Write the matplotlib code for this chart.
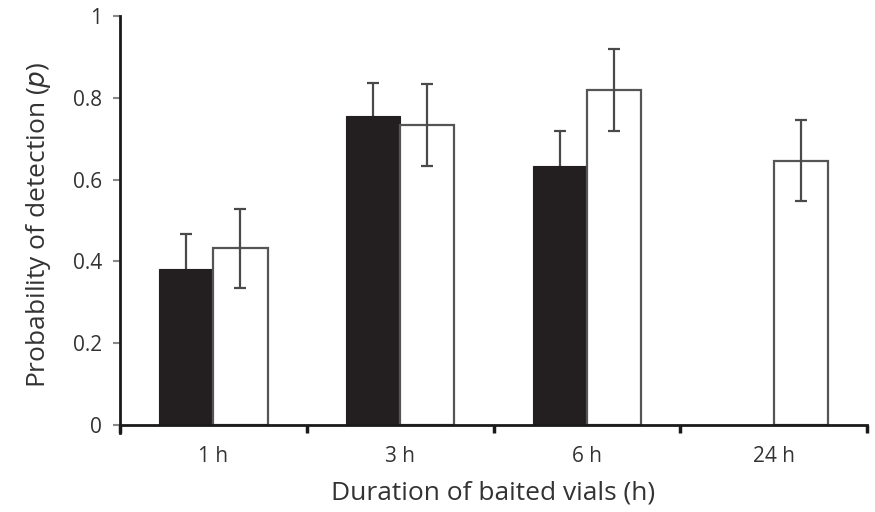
import numpy as np
import matplotlib
matplotlib.use("Agg")
import matplotlib.pyplot as plt

categories = ["1 h", "3 h", "6 h", "24 h"]
black_vals = [0.382, 0.755, 0.634, np.nan]
black_err = [0.085, 0.082, 0.085, 0.0]
white_vals = [0.432, 0.733, 0.819, 0.646]
white_err = [0.097, 0.100, 0.100, 0.099]

plt.rcParams['font.family'] = ['Open Sans', 'DejaVu Sans']

fig = plt.figure(figsize=(8.75, 5.12), dpi=100)
ax = fig.add_axes([120 / 875, 1 - 433 / 512, 747 / 875, (433 - 16) / 512])

x = np.arange(len(categories))
w = 0.29
errc = '#4a4a4a'

# black bars, only upper error bar visible
ax.bar(x - w / 2, black_vals, w, color='#231f20', edgecolor='#231f20', linewidth=0.8, zorder=2)
bv = np.array(black_vals)
be = np.array(black_err)
ok = ~np.isnan(bv)
eb = ax.errorbar((x - w / 2)[ok], bv[ok], yerr=[np.zeros(ok.sum()), be[ok]], fmt='none',
                 ecolor=errc, elinewidth=1.6, capsize=4.5, capthick=1.6, zorder=1)
eb[1][0].set_visible(False)  # hide lower caps

# white bars
ax.bar(x + w / 2, white_vals, w, color='white', edgecolor='#555555', linewidth=1.6, zorder=2)
ax.errorbar(x + w / 2, white_vals, yerr=white_err, fmt='none',
            ecolor=errc, elinewidth=1.6, capsize=4.5, capthick=1.6, zorder=3)

ax.set_xlim(-0.5, 3.5)
ax.set_ylim(-0.02, 1)
ax.spines['top'].set_visible(False)
ax.spines['right'].set_visible(False)
ax.spines['bottom'].set_position(('data', 0))
ax.spines['left'].set_bounds(-0.02, 1)
for s in ['left', 'bottom']:
    ax.spines[s].set_linewidth(2)
    ax.spines[s].set_color('#1a1a1a')

ax.set_yticks([0, 0.2, 0.4, 0.6, 0.8, 1])
ax.set_yticklabels(['0', '0.2', '0.4', '0.6', '0.8', '1'])
ax.tick_params(axis='y', direction='out', length=5, width=1.5, color='#888888',
               labelsize=15, labelcolor='#333333', pad=8)

ax.set_xticks(x)
ax.set_xticklabels(categories)
ax.tick_params(axis='x', which='major', length=0, labelsize=15, labelcolor='#333333', pad=15)
ax.set_xticks(np.arange(-0.5, 4.0, 1.0), minor=True)
ax.tick_params(axis='x', which='minor', direction='out', length=6, width=2.5, color='#1a1a1a')

ax.set_xlabel('Duration of baited vials (h)', fontsize=19, color='#333333', labelpad=10)
ax.set_ylabel('Probability of detection ($\\it{p}$)', fontsize=19, color='#333333', labelpad=14)

fig.savefig('out.png', dpi=100)
